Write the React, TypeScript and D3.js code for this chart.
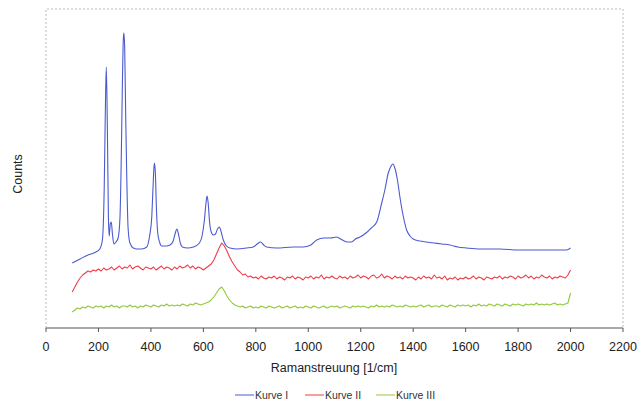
import React from "react";
import * as d3 from "d3";

const xTicks = [0, 200, 400, 600, 800, 1000, 1200, 1400, 1600, 1800, 2000, 2200];
const seriesNames = ["Kurve I", "Kurve II", "Kurve III"];
const seriesColors = ["#4b5bcf", "#ef3d47", "#92c83a"];

// Kurve I: [wavenumber, counts]
const kurve1: [number, number][] = [
  [100, 65], [130, 69], [160, 73], [190, 76], [205, 79], [215, 88], [222, 140], [227, 230], [230, 261], [234, 200],
  [238, 110], [241, 92], [245, 104], [249, 106], [253, 95], [259, 84], [267, 86], [275, 90], [282, 110], [287, 170],
  [291, 240], [295, 290], [297, 295], [300, 280], [304, 210], [308, 150], [313, 100], [320, 85], [333, 80], [346, 79],
  [365, 79], [384, 81], [395, 92], [403, 110], [408, 140], [412, 162], [414, 165], [417, 155], [421, 120], [426, 95],
  [433, 86], [441, 82], [458, 82], [473, 83], [485, 87], [493, 95], [499, 99], [505, 94], [512, 85], [520, 81],
  [540, 80], [562, 81], [585, 85], [595, 92], [604, 108], [610, 125], [614, 132], [618, 126], [624, 105], [630, 96],
  [638, 93], [646, 94], [654, 99], [661, 101], [668, 96], [676, 88], [688, 82], [701, 80], [730, 79], [765, 80],
  [790, 81], [805, 84], [818, 86], [830, 83], [841, 81], [880, 80], [943, 81], [980, 81], [1010, 83], [1032, 88],
  [1060, 90], [1085, 90], [1108, 91], [1130, 88], [1150, 86], [1165, 86], [1180, 89], [1197, 91], [1220, 95], [1240, 100],
  [1261, 106], [1280, 125], [1292, 138], [1305, 155], [1316, 162], [1322, 164], [1330, 160], [1340, 148], [1350, 130], [1362, 112],
  [1375, 98], [1388, 92], [1400, 89], [1425, 87], [1451, 86], [1480, 85], [1510, 84], [1540, 83], [1570, 81], [1604, 80],
  [1650, 79], [1731, 79], [1800, 78], [1900, 78], [1985, 78], [2000, 80],
];

// Kurve II and III sampled every 10 1/cm from 100 to 2000
const gridStart = 100;
const gridStep = 10;
const kurve2 = [
  36, 41, 46, 50, 53, 55, 57, 56, 58, 57,
  59, 57, 60, 58, 59, 61, 58, 60, 62, 59,
  61, 60, 63, 59, 61, 62, 60, 58, 61, 60,
  59, 61, 58, 60, 62, 59, 61, 60, 58, 61,
  59, 62, 60, 61, 63, 60, 62, 59, 61, 60,
  58, 60, 62, 64, 68, 74, 80, 85, 82, 77,
  71, 66, 62, 58, 56, 53, 54, 51, 52, 50,
  51, 49, 52, 50, 49, 51, 50, 52, 49, 51,
  50, 48, 51, 50, 52, 49, 51, 50, 48, 51,
  50, 52, 49, 51, 50, 53, 49, 51, 50, 52,
  50, 49, 52, 50, 51, 49, 52, 50, 51, 53,
  50, 52, 51, 49, 52, 53, 50, 51, 54, 50,
  52, 51, 49, 52, 50, 51, 49, 52, 50, 51,
  50, 48, 51, 49, 52, 50, 51, 49, 53, 50,
  51, 49, 52, 48, 50, 49, 51, 48, 50, 49,
  51, 49, 50, 52, 49, 51, 50, 48, 51, 50,
  49, 51, 50, 52, 49, 51, 50, 52, 51, 49,
  52, 50, 51, 53, 50, 52, 49, 51, 50, 53,
  51, 50, 52, 49, 51, 50, 52, 51, 50, 53,
  58,
];
const kurve3 = [
  16, 18, 20, 19, 21, 20, 22, 21, 20, 22,
  21, 22, 20, 22, 21, 23, 21, 22, 20, 22,
  22, 21, 23, 21, 22, 20, 22, 21, 23, 22,
  21, 23, 22, 21, 23, 22, 24, 22, 23, 22,
  23, 22, 24, 23, 22, 24, 23, 25, 24, 23,
  24, 25, 26, 28, 31, 35, 39, 41, 37, 32,
  28, 25, 23, 22, 21, 22, 20, 21, 22, 20,
  21, 20, 22, 21, 20, 22, 21, 20, 21, 22,
  20, 21, 22, 20, 21, 22, 20, 21, 20, 22,
  21, 20, 22, 21, 20, 21, 22, 20, 21, 22,
  21, 22, 20, 21, 22, 21, 20, 22, 21, 22,
  21, 22, 21, 20, 22, 21, 23, 21, 22, 21,
  22, 21, 23, 22, 21, 22, 21, 23, 22, 21,
  22, 21, 22, 23, 21, 22, 23, 21, 22, 22,
  21, 23, 22, 21, 23, 22, 21, 23, 22, 23,
  22, 23, 21, 23, 22, 24, 22, 23, 22, 24,
  23, 22, 24, 23, 22, 24, 23, 22, 24, 23,
  24, 23, 22, 24, 23, 24, 23, 25, 23, 24,
  23, 24, 23, 24, 25, 23, 24, 23, 24, 25,
  35,
];

const W = 641;
const H = 408;
const left = 46, right = 623, top = 9, bottom = 328;

export default function App() {
  const x = d3.scaleLinear().domain([0, 2200]).range([left, right]);
  const y = d3.scaleLinear().domain([0, 319]).range([bottom, top]);
  const toPairs = (vals: number[]) => vals.map((v, i) => [gridStart + i * gridStep, v] as [number, number]);
  const line = d3.line<[number, number]>().x((d) => x(d[0])).y((d) => y(d[1]));
  const smooth = d3.line<[number, number]>().x((d) => x(d[0])).y((d) => y(d[1])).curve(d3.curveMonotoneX);
  const paths = [smooth(kurve1), line(toPairs(kurve2)), line(toPairs(kurve3))];
  const font = "'Liberation Sans', Arial, sans-serif";
  const legendX = [235, 305, 376];
  return (
    <svg width={W} height={H} style={{ position: "absolute", left: 0, top: 0, background: "#fff" }} fontFamily={font}>
      <rect x={0} y={0} width={W} height={H} fill="#fff" />
      <path d={`M${left},${bottom}V${top}H${right}V${bottom}`} fill="none" stroke="#a8a8b0" strokeWidth={0.8} strokeDasharray="2,2" />
      {paths.map((d, i) => (
        <path key={i} d={d || ""} fill="none" stroke={seriesColors[i]} strokeWidth={1.1} strokeLinejoin="round" />
      ))}
      <line x1={left} x2={right} y1={bottom} y2={bottom} stroke="#555" strokeWidth={1} />
      {xTicks.map((t) => (
        <g key={t}>
          <line x1={x(t)} x2={x(t)} y1={bottom} y2={bottom + 4} stroke="#555" strokeWidth={1} />
          <text x={x(t)} y={bottom + 23} textAnchor="middle" fontSize={12.5} fill="#222">{t}</text>
        </g>
      ))}
      <text x={334} y={372} textAnchor="middle" fontSize={12.5} fill="#222">Ramanstreuung [1/cm]</text>
      <text transform="translate(22,174) rotate(-90)" textAnchor="middle" fontSize={12.5} fill="#222">Counts</text>
      {seriesNames.map((n, i) => (
        <g key={n}>
          <line x1={legendX[i]} x2={legendX[i] + 19} y1={395} y2={395} stroke={seriesColors[i]} strokeWidth={1} />
          <text x={legendX[i] + 20} y={399} fontSize={10.5} fill="#333">{n}</text>
        </g>
      ))}
    </svg>
  );
}
